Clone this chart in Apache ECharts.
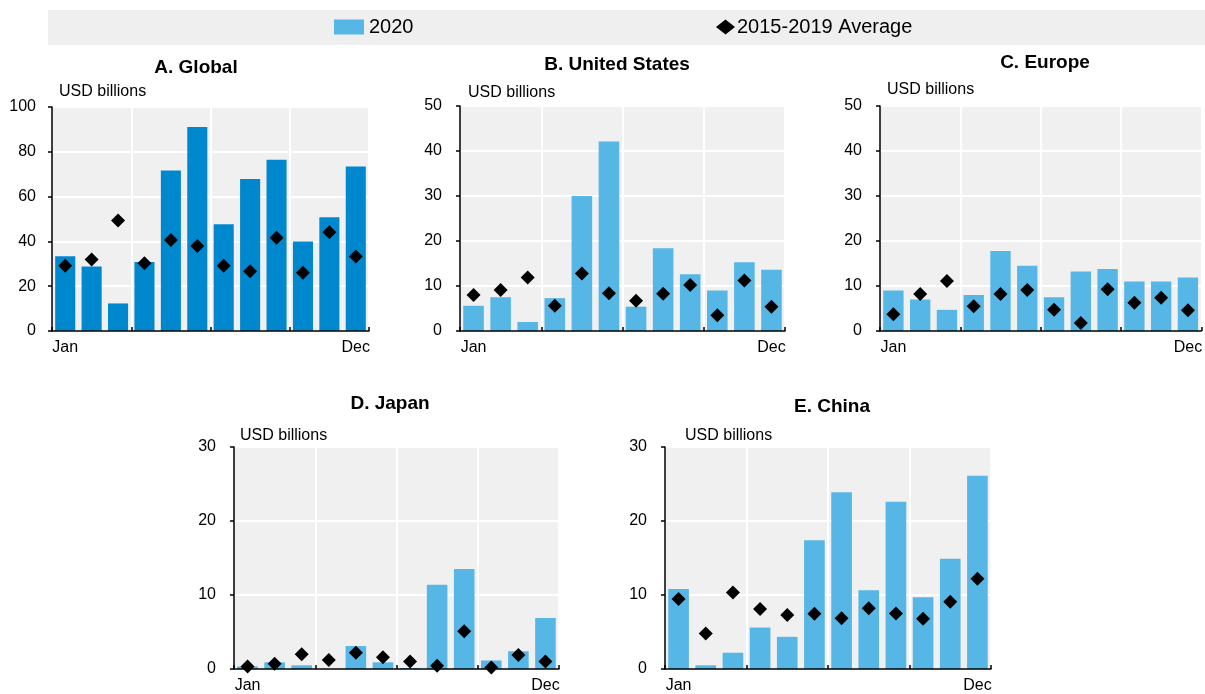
<!DOCTYPE html>
<html>
<head>
<meta charset="utf-8">
<script src="https://cdn.jsdelivr.net/npm/echarts@6/dist/echarts.min.js"></script>
<style>
  html, body { margin: 0; padding: 0; background: #fff; }
  #chart { width: 1205px; height: 694px; }
</style>
</head>
<body>
<div id="chart"></div>
<script>
// Monthly values, USD billions
const months = ['Jan', 'Feb', 'Mar', 'Apr', 'May', 'Jun', 'Jul', 'Aug', 'Sep', 'Oct', 'Nov', 'Dec'];

const global2020 = [33.4, 28.8, 12.3, 30.8, 71.6, 91.1, 47.7, 67.9, 76.5, 40.0, 50.8, 73.4];
const globalAvg  = [29.1, 31.9, 49.3, 30.2, 40.6, 37.9, 29.1, 26.7, 41.6, 26.0, 44.1, 33.3];

const us2020 = [5.6, 7.5, 2.0, 7.3, 30.0, 42.1, 5.4, 18.4, 12.6, 9.0, 15.3, 13.6];
const usAvg  = [8.0, 9.1, 11.9, 5.6, 12.8, 8.4, 6.7, 8.3, 10.2, 3.5, 11.2, 5.4];

const europe2020 = [9.0, 7.0, 4.7, 8.0, 17.8, 14.5, 7.5, 13.2, 13.8, 11.0, 11.0, 11.9];
const europeAvg  = [3.7, 8.2, 11.1, 5.5, 8.2, 9.1, 4.7, 1.8, 9.3, 6.3, 7.4, 4.6];

const japan2020 = [0.35, 0.9, 0.5, 0, 3.1, 0.9, 0.13, 11.4, 13.5, 1.15, 2.4, 6.9];
const japanAvg  = [0.35, 0.7, 2.0, 1.2, 2.2, 1.6, 1.0, 0.45, 5.1, 0.2, 1.9, 1.0];

const china2020 = [10.8, 0.5, 2.2, 5.6, 4.35, 17.4, 23.9, 10.65, 22.6, 9.7, 14.9, 26.1];
const chinaAvg  = [9.45, 4.8, 10.35, 8.1, 7.3, 7.45, 6.85, 8.2, 7.5, 6.8, 9.1, 12.2];

const yUnit = 'USD billions';
const barName = '2020';
const avgName = '2015-2019 Average';

const FONT = '"Liberation Sans", Arial, sans-serif';
const LIGHT = '#56b6e6';
const DARK = '#0088cf';
const PANEL_BG = '#f0f0f0';

const panels = [
  { title: 'A. Global',        bars: global2020, avg: globalAvg, max: 100, step: 20, color: DARK,
    grid: { left: 52, top: 107, width: 317, height: 224 }, titleX: 196, titleY: 68, unitY: 92, unitX: 59, labelMargin: 16 },
  { title: 'B. United States', bars: us2020,     avg: usAvg,     max: 50,  step: 10, color: LIGHT,
    grid: { left: 460, top: 106, width: 325, height: 225 }, titleX: 617, titleY: 65, unitY: 93, unitX: 468, labelMargin: 18 },
  { title: 'C. Europe',        bars: europe2020, avg: europeAvg, max: 50,  step: 10, color: LIGHT,
    grid: { left: 880, top: 106, width: 325, height: 225 }, titleX: 1045, titleY: 63, unitY: 90, unitX: 887, labelMargin: 18 },
  { title: 'D. Japan',         bars: japan2020,  avg: japanAvg,  max: 30,  step: 10, color: LIGHT,
    grid: { left: 234, top: 447, width: 325, height: 225 }, titleX: 390, titleY: 404, unitY: 436, unitX: 240, labelMargin: 18 },
  { title: 'E. China',         bars: china2020,  avg: chinaAvg,  max: 30,  step: 10, color: LIGHT,
    grid: { left: 665, top: 447, width: 326, height: 225 }, titleX: 832, titleY: 407, unitY: 436, unitX: 685, labelMargin: 18 }
];

// quarter boundaries: ticks at every third month, split lines skip the left edge
const quarterTick = (i) => i % 3 === 0;
const quarterLine = (i) => i % 3 === 0 && i !== 0;
const endMonths = (i) => i === 0 || i === months.length - 1;

const grids = [], xAxes = [], yAxes = [], series = [], texts = [];

// light grey band behind the legend
texts.push({
  type: 'rect', left: 48, top: 10, z: -1,
  shape: { width: 1157, height: 35 },
  style: { fill: '#efefef' }
});

panels.forEach((p, i) => {
  grids.push(Object.assign({ show: true, backgroundColor: PANEL_BG, borderWidth: 0, containLabel: false }, p.grid));

  xAxes.push({
    type: 'category', gridIndex: i, data: months, boundaryGap: true, z: 5,
    axisLine: { lineStyle: { color: '#000', width: 1.5 } },
    axisTick: { show: true, inside: true, length: 4, interval: quarterTick, lineStyle: { color: '#000', width: 1.5 } },
    splitLine: { show: true, interval: quarterLine, lineStyle: { color: '#fff', width: 2 } },
    axisLabel: { interval: endMonths, margin: 9, color: '#000', fontFamily: FONT, fontSize: 16 }
  });

  yAxes.push({
    type: 'value', gridIndex: i, min: 0, max: p.max, interval: p.step, z: 6,
    axisLine: { show: true, lineStyle: { color: '#000', width: 1.5 } },
    axisTick: { show: true, length: 4, lineStyle: { color: '#000', width: 1.5 } },
    splitLine: { show: false },
    axisLabel: { margin: p.labelMargin, color: '#000', fontFamily: FONT, fontSize: 16 }
  });

  series.push({
    name: barName, type: 'bar', xAxisIndex: i, yAxisIndex: i,
    data: p.bars, barCategoryGap: '24%',
    itemStyle: { color: p.color }
  });
  series.push({
    name: avgName, type: 'scatter', xAxisIndex: i, yAxisIndex: i,
    data: p.avg, symbol: 'diamond', symbolSize: 14,
    itemStyle: { color: '#000', opacity: 1 }
  });

  texts.push({
    type: 'text', x: p.titleX, y: p.titleY,
    style: { text: p.title, font: 'bold 19px ' + FONT, fill: '#000', textAlign: 'center', textVerticalAlign: 'middle' }
  });
  texts.push({
    type: 'text', x: p.unitX, y: p.unitY,
    style: { text: yUnit, font: '16px ' + FONT, fill: '#000', textAlign: 'left', textVerticalAlign: 'middle' }
  });
});

// horizontal white grid lines, drawn beneath the bars
const hGrid = panels.map((p, i) => ({
  type: 'value', gridIndex: i, min: 0, max: p.max, interval: p.step, z: 0,
  axisLine: { show: false }, axisTick: { show: false }, axisLabel: { show: false },
  splitLine: { show: true, lineStyle: { color: '#fff', width: 2 } }
}));

const chart = echarts.init(document.getElementById('chart'), null, { renderer: 'canvas' });
chart.setOption({
  animation: false,
  backgroundColor: '#fff',
  textStyle: { fontFamily: FONT },
  legend: [
    {
      data: [{ name: barName, icon: 'rect', itemStyle: { color: LIGHT } }],
      left: 334, top: 17, padding: 0, itemWidth: 30, itemHeight: 15, selectedMode: false,
      textStyle: { color: '#000', fontFamily: FONT, fontSize: 20 }
    },
    {
      data: [{ name: avgName, icon: 'diamond', itemStyle: { color: '#000' } }],
      left: 716, top: 17, padding: 0, itemWidth: 19, itemHeight: 15, selectedMode: false,
      textStyle: { color: '#000', fontFamily: FONT, fontSize: 20, padding: [0, 0, 0, -3] }
    }
  ],
  grid: grids,
  xAxis: xAxes,
  yAxis: yAxes.concat(hGrid),
  series: series,
  graphic: texts
});
</script>
</body>
</html>
